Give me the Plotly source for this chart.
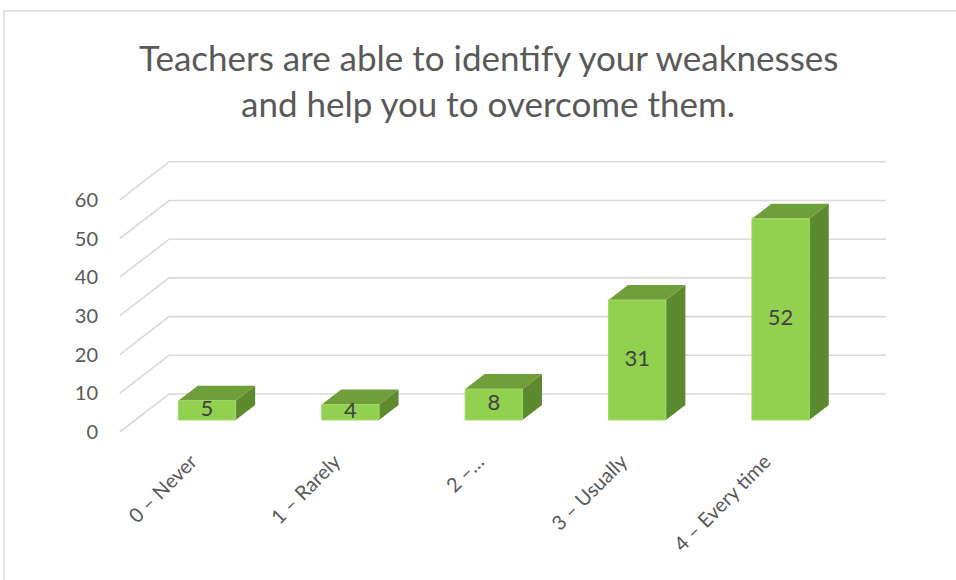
import plotly.graph_objects as go

# ---- data ----
CATEGORIES = ["0 – Never", "1 – Rarely", "2 –…", "3 – Usually", "4 – Every time"]
VALUES = [5, 4, 8, 31, 52]
Y_TICKS = [0, 10, 20, 30, 40, 50, 60]
TITLE_LINES = ["Teachers are able to identify your weaknesses",
               "and help you to overcome them."]

# ---- style / geometry ----
FIG_W, FIG_H = 956, 580
M_L, M_R, M_T, M_B = 99, 56, 140, 135
PX_PER_CAT = 143.4      # pixels per category step
PX_PER_UNIT = 3.87      # pixels per value unit
X0_PX, Y0_PX = 207, 420  # pixel of category 0 / value 0 (bar front plane)
DEPTH_RATIO = 1.3       # horizontal px per vertical px of depth
BAR_HALF = 0.2
BAR_DEPTH = 15          # px
FRONT_PLANE = -12       # px depth of the axis-label plane relative to bar fronts
BACK_WALL = 26          # px depth of back wall relative to bar fronts

FRONT_C = "#92D050"
TOP_C = "#6F9E3B"
SIDE_C = "#5E8A2F"
GRID_C = "#D9D9D9"
TEXT_C = "#595959"
FONT = "Lato"


def sx(d):
    return DEPTH_RATIO * d / PX_PER_CAT


def sy(d):
    return d / PX_PER_UNIT


x_range = [(M_L - X0_PX) / PX_PER_CAT, (FIG_W - M_R - X0_PX) / PX_PER_CAT]
y_range = [(Y0_PX - (FIG_H - M_B)) / PX_PER_UNIT, (Y0_PX - M_T) / PX_PER_UNIT]

n = len(CATEGORIES)
left_edge, right_edge = -0.5, n - 0.5

fig = go.Figure()

# gridlines (floor-edge diagonal + back wall line)
gx, gy = [], []
for v in Y_TICKS:
    gx += [left_edge + sx(FRONT_PLANE), left_edge + sx(BACK_WALL), right_edge + sx(BACK_WALL), None]
    gy += [v + sy(FRONT_PLANE), v + sy(BACK_WALL), v + sy(BACK_WALL), None]
fig.add_trace(go.Scatter(x=gx, y=gy, mode="lines", line=dict(color=GRID_C, width=1.6),
                         hoverinfo="skip", showlegend=False))

dx, dy = sx(BAR_DEPTH), sy(BAR_DEPTH)
for i, v in enumerate(VALUES):
    a, b = i - BAR_HALF, i + BAR_HALF
    # side face
    fig.add_trace(go.Scatter(x=[b, b + dx, b + dx, b, b], y=[0, dy, v + dy, v, 0],
                             fill="toself", fillcolor=SIDE_C, mode="lines",
                             line=dict(width=0, color=SIDE_C), hoverinfo="skip", showlegend=False))
    # top face
    fig.add_trace(go.Scatter(x=[a, b, b + dx, a + dx, a], y=[v, v, v + dy, v + dy, v],
                             fill="toself", fillcolor=TOP_C, mode="lines",
                             line=dict(width=0, color=TOP_C), hoverinfo="skip", showlegend=False))
    # front face
    fig.add_trace(go.Scatter(x=[a, b, b, a, a], y=[0, 0, v, v, 0],
                             fill="toself", fillcolor=FRONT_C, mode="lines",
                             line=dict(width=1, color="#A2D86A"), hoverinfo="skip", showlegend=False))

# data labels
fig.add_trace(go.Scatter(x=list(range(n)), y=[v / 2 for v in VALUES], mode="text",
                         text=[str(v) for v in VALUES],
                         textfont=dict(family=FONT, size=22, color="#404040"),
                         hoverinfo="skip", showlegend=False))

# title lines
plot_w = FIG_W - M_L - M_R
plot_h = FIG_H - M_T - M_B
title_cx = (488 - M_L) / plot_w
for k, line in enumerate(TITLE_LINES):
    ypx = 57 + 46 * k
    fig.add_annotation(text=line, xref="paper", yref="paper",
                       x=title_cx, y=(FIG_H - M_B - ypx) / plot_h,
                       xanchor="center", yanchor="middle", showarrow=False,
                       font=dict(family=FONT, size=35, color=TEXT_C))

# chart-area border
fig.add_shape(type="rect", xref="paper", yref="paper",
              x0=(4 - M_L) / plot_w, x1=(980 - M_L) / plot_w,
              y0=(FIG_H - M_B - 600) / plot_h, y1=(FIG_H - M_B - 11) / plot_h,
              line=dict(color=GRID_C, width=1.5), layer="below")

fig.update_layout(
    width=FIG_W, height=FIG_H, autosize=False,
    margin=dict(l=M_L, r=M_R, t=M_T, b=M_B),
    paper_bgcolor="white", plot_bgcolor="white",
    font=dict(family=FONT, color=TEXT_C),
    xaxis=dict(range=x_range, tickvals=[i + sx(FRONT_PLANE) for i in range(n)],
               ticktext=CATEGORIES, tickangle=-45, showgrid=False, zeroline=False,
               showline=False, ticks="", tickfont=dict(family=FONT, size=20, color=TEXT_C),
               fixedrange=True),
    yaxis=dict(range=y_range, tickvals=[v + sy(FRONT_PLANE) for v in Y_TICKS],
               ticktext=[str(v) for v in Y_TICKS], showgrid=False, zeroline=False,
               showline=False, ticks="", tickfont=dict(family=FONT, size=20, color=TEXT_C),
               fixedrange=True),
    showlegend=False,
)

fig.write_html("out.html", config={"displayModeBar": False},
               post_script="document.body.style.margin='0';document.body.style.overflow='hidden';")
